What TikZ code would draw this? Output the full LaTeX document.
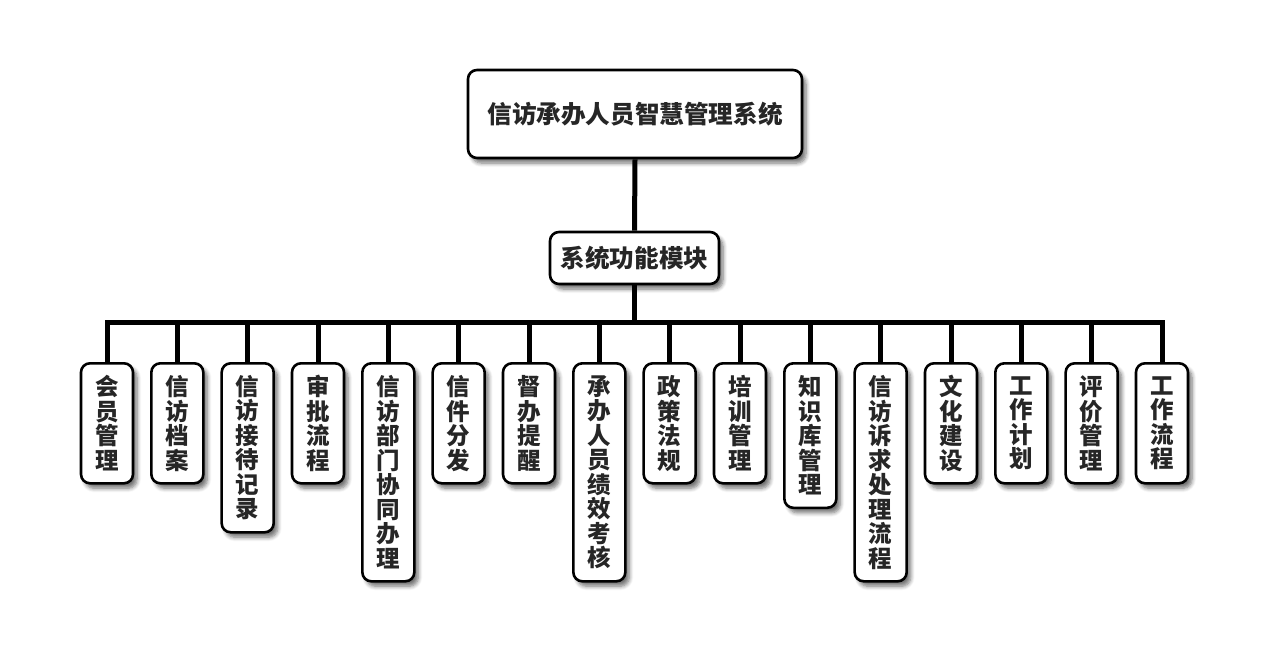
\documentclass[tikz,border=0pt]{standalone}
\usepackage{fontspec}
\setmainfont{Noto Sans CJK SC}
\usetikzlibrary{shadows.blur,backgrounds}
\begin{document}
\begin{tikzpicture}[x=1pt,y=-1pt,
  box/.style={draw=black, line width=2.6pt, rounded corners=9pt, fill=white,
    text=black!85, inner sep=0pt,
    blur shadow={shadow xshift=4pt, shadow yshift=-5pt, shadow blur steps=6, shadow opacity=55, shadow blur radius=4pt}},
  topbox/.style={box, font=\fontsize{24.6}{26}\selectfont\bfseries},
  leaf/.style={box, font=\fontsize{23.5}{24.5}\selectfont\bfseries, align=center, minimum width=52pt, anchor=north},
  conn/.style={line width=5pt, draw=black}]
\useasboundingbox (0,0) rectangle (1269,656);
\node[topbox, minimum width=334pt, minimum height=88pt] (root) at (635,114) {信访承办人员智慧管理系统};
\node[topbox, minimum width=169pt, minimum height=52pt] (mid) at (634.5,258) {系统功能模块};
\coordinate (bar) at (634.5,322);
\foreach \t/\n [count=\i from 0] in {
  {会\\员\\管\\理}/4, {信\\访\\档\\案}/4, {信\\访\\接\\待\\记\\录}/6, {审\\批\\流\\程}/4,
  {信\\访\\部\\门\\协\\同\\办\\理}/8, {信\\件\\分\\发}/4, {督\\办\\提\\醒}/4,
  {承\\办\\人\\员\\绩\\效\\考\\核}/8, {政\\策\\法\\规}/4, {培\\训\\管\\理}/4,
  {知\\识\\库\\管\\理}/5, {信\\访\\诉\\求\\处\\理\\流\\程}/8, {文\\化\\建\\设}/4,
  {工\\作\\计\\划}/4, {评\\价\\管\\理}/4, {工\\作\\流\\程}/4} {
  \node[leaf, minimum height={24.5*\n+22}] (c\i) at ({107+70.333*\i},362) {\t};
}
\begin{pgfonlayer}{background}
\draw[conn] (root.south) -- (mid.north);
\draw[conn] (mid.south) -- (bar);
\foreach \i in {0,...,15} {
  \draw[conn, line cap=rect] (bar) -| (c\i.north);
}
\end{pgfonlayer}
\end{tikzpicture}
\end{document}
